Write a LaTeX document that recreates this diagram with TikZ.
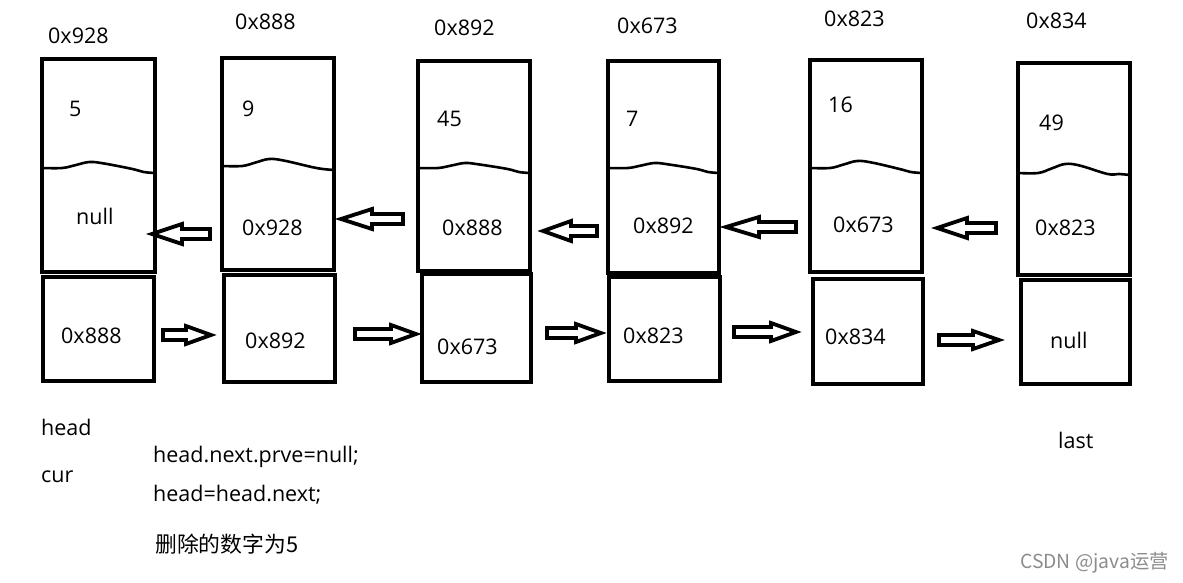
\documentclass[tikz,border=0pt]{standalone}
\usepackage{fontspec}
\setmainfont{Open Sans}
\newfontfamily\cjk{Noto Sans CJK SC}
\newcommand\wavyline[5]{% left x, right x, left y, peak y, right y
  \draw[wavy] plot[smooth, tension=0.6] coordinates {(#1,#3) ({#1+0.18*(#2-#1)},#3) ({#1+0.3*(#2-#1)},{#3-0.5*(#3-#4)}) ({#1+0.42*(#2-#1)},#4) ({#1+0.55*(#2-#1)},{#4+1.5}) ({#1+0.8*(#2-#1)},{#3+1}) ({#1+0.9*(#2-#1)},{#5-1}) (#2,#5)};}
\newcommand\blockleft[4]{% tail x, tip x, y, head length
  \draw[barrow] (#2,#3) -- ++(#4,-10) -- ++(0,5) -- (#1,#3-5) -- (#1,#3+5) -- (#2+#4,#3+5) -- ++(0,5) -- cycle;}
\newcommand\blockright[4]{% tail x, tip x, y, head length
  \draw[barrow] (#2,#3) -- ++(-#4,-9) -- ++(0,4) -- (#1,#3-5) -- (#1,#3+5) -- (#2-#4,#3+5) -- ++(0,4) -- cycle;}
\begin{document}
\begin{tikzpicture}[x=1pt,y=-1pt,
  cellbox/.style={draw, line width=4.5pt, inner sep=0pt, outer sep=0pt, anchor=north west},
  lbl/.style={anchor=base west, inner sep=0pt, font=\fontsize{21.5}{26}\selectfont},
  wavy/.style={line width=2.6pt},
  barrow/.style={line width=3.8pt, line join=miter}]
\useasboundingbox[fill=white] (0,0) rectangle (1183,583);

% node 1
\node[cellbox, minimum width=113pt, minimum height=213pt] (t1) at (42,59) {};
\node[cellbox, minimum width=111pt, minimum height=104pt] (b1) at (43,277) {};
\wavyline{42}{155}{168}{162}{173}
% node 2
\node[cellbox, minimum width=112pt, minimum height=212pt] (t2) at (222,58) {};
\node[cellbox, minimum width=111pt, minimum height=107pt] (b2) at (224,275) {};
\wavyline{222}{334}{166}{159}{170}
% node 3
\node[cellbox, minimum width=112pt, minimum height=210pt] (t3) at (418,61) {};
\node[cellbox, minimum width=109pt, minimum height=108pt] (b3) at (422,274) {};
\wavyline{418}{530}{168}{163}{173}
% node 4
\node[cellbox, minimum width=111pt, minimum height=212pt] (t4) at (608,61) {};
\node[cellbox, minimum width=111pt, minimum height=104pt] (b4) at (609,277) {};
\wavyline{608}{719}{168}{163}{173}
% node 5
\node[cellbox, minimum width=112pt, minimum height=212pt] (t5) at (810,60) {};
\node[cellbox, minimum width=110pt, minimum height=105pt] (b5) at (813,279) {};
\wavyline{810}{922}{168}{161}{173}
% node 6
\node[cellbox, minimum width=112pt, minimum height=212pt] (t6) at (1018,63) {};
\node[cellbox, minimum width=109pt, minimum height=104pt] (b6) at (1021,280) {};
\wavyline{1018}{1130}{173}{164}{175}

% address labels
\node[lbl] (a1) at (48,44) {0x928};
\node[lbl] (a2) at (235,30) {0x888};
\node[lbl] (a3) at (434,36) {0x892};
\node[lbl] (a4) at (617,34) {0x673};
\node[lbl] (a5) at (824,27) {0x823};
\node[lbl] (a6) at (1026,29) {0x834};

% values
\node[lbl] (v1) at (69,117) {5};
\node[lbl] (v2) at (242,117) {9};
\node[lbl] (v3) at (437,127) {45};
\node[lbl] (v4) at (626,127) {7};
\node[lbl] (v5) at (828,113) {16};
\node[lbl] (v6) at (1039,131) {49};

% prev fields
\node[lbl] (p1) at (76,224) {null};
\node[lbl] (p2) at (242,235) {0x928};
\node[lbl] (p3) at (442,235) {0x888};
\node[lbl] (p4) at (633,233) {0x892};
\node[lbl] (p5) at (833,232) {0x673};
\node[lbl] (p6) at (1035,235) {0x823};

% next fields
\node[lbl] (n1) at (61,343) {0x888};
\node[lbl] (n2) at (245,348) {0x892};
\node[lbl] (n3) at (437,354) {0x673};
\node[lbl] (n4) at (623,343) {0x823};
\node[lbl] (n5) at (825,344) {0x834};
\node[lbl] (n6) at (1050,348) {null};

% left-pointing block arrows
\blockleft{210}{152}{234}{30}
\blockleft{403}{341}{219}{31}
\blockleft{597}{543}{231}{28}
\blockleft{796}{726}{227}{33}
\blockleft{996}{937}{228}{30}
% right-pointing block arrows
\blockright{163}{211}{335}{25}
\blockright{355}{416}{334}{25}
\blockright{547}{601}{333}{25}
\blockright{734}{796}{332}{25}
\blockright{939}{999}{340}{26}

% bottom texts
\node[lbl] (head) at (41,435) {head};
\node[lbl] (cur) at (41,482) {cur};
\node[lbl] (code1) at (153,462) {head.next.prve=null;};
\node[lbl] (code2) at (153,501) {head=head.next;};
\node[lbl, font=\cjk\fontsize{21.8}{26}\selectfont] (del) at (155,552) {删除的数字为5};
\node[lbl] (last) at (1058,448) {last};
\node[lbl, text=black!45, font=\cjk\fontsize{19.3}{22}\selectfont] (wm) at (1020,568) {CSDN @java运营};
\end{tikzpicture}
\end{document}
